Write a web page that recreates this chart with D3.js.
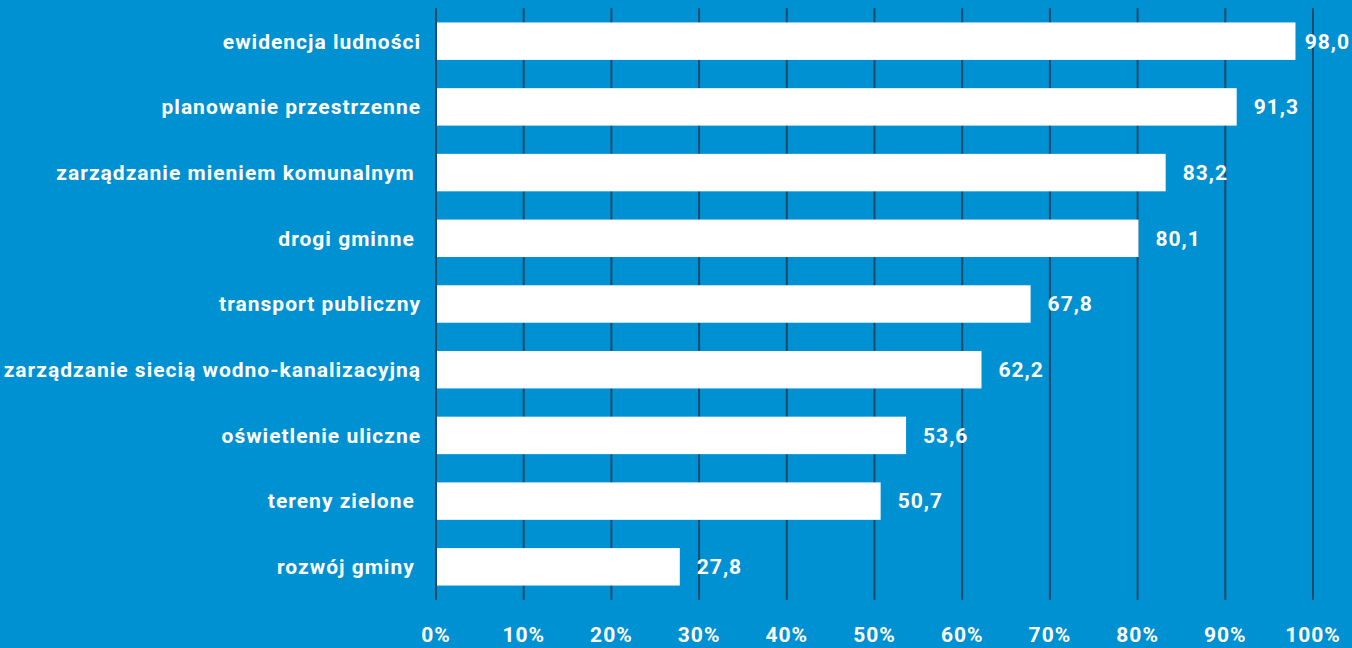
<!DOCTYPE html>
<html>
<head>
<meta charset="utf-8">
<script src="https://cdn.jsdelivr.net/npm/d3@7"></script>
<style>
  html, body { margin: 0; padding: 0; background: #0091d3; }
  svg text { font-family: Roboto, "Noto Sans", sans-serif; font-weight: bold; fill: #ffffff; white-space: pre; letter-spacing: 1px; }
</style>
</head>
<body>
<div id="chart"></div>
<script>
// data
let categories = [
    "ewidencja ludności",
    "planowanie przestrzenne",
    "zarządzanie mieniem komunalnym ",
    "drogi gminne ",
    "transport publiczny",
    "zarządzanie siecią wodno-kanalizacyjną",
    "oświetlenie uliczne",
    "tereny zielone ",
    "rozwój gminy "
];
let values = [98.0, 91.3, 83.2, 80.1, 67.8, 62.2, 53.6, 50.7, 27.8];
let ticks = [0, 10, 20, 30, 40, 50, 60, 70, 80, 90, 100];

let width = 1352, height = 648;

let svg = d3.select("#chart").append("svg")
    .attr("width", width)
    .attr("height", height);

svg.append("rect")
    .attr("width", width)
    .attr("height", height)
    .attr("fill", "#0091d3");

let xScale = d3.scaleLinear()
    .domain([0, 100])
    .range([436, 1313]);

let yScale = d3.scaleBand()
    .domain(categories)
    .range([8, 600])
    .paddingInner(0.43)
    .paddingOuter(0.22);

// vertical gridlines
svg.append("g")
    .selectAll("line")
    .data(ticks)
    .enter().append("line")
    .attr("x1", d => xScale(d))
    .attr("x2", d => xScale(d))
    .attr("y1", 8)
    .attr("y2", 600)
    .attr("stroke", "#1c4a6b")
    .attr("stroke-width", 2);

// bars
svg.append("g")
    .selectAll("rect")
    .data(values)
    .enter().append("rect")
    .attr("x", xScale(0) + 1)
    .attr("y", (d, i) => yScale(categories[i]))
    .attr("width", d => xScale(d) - xScale(0) - 1)
    .attr("height", yScale.bandwidth())
    .attr("fill", "#ffffff");

// category labels
svg.append("g")
    .selectAll("text")
    .data(categories)
    .enter().append("text")
    .attr("x", 421)
    .attr("y", d => yScale(d) + yScale.bandwidth() / 2)
    .attr("dy", "0.35em")
    .attr("text-anchor", "end")
    .attr("font-size", 21)
    .text(d => d);

// value labels (pulled back in when they would run off the right edge)
svg.append("g")
    .selectAll("text")
    .data(values)
    .enter().append("text")
    .attr("y", (d, i) => yScale(categories[i]) + yScale.bandwidth() / 2)
    .attr("dy", "0.35em")
    .attr("font-size", 21)
    .text(d => d.toFixed(1).replace(".", ","))
    .attr("x", function(d) {
        let w = this.getComputedTextLength();
        return Math.min(xScale(d) + 17, width - w - 2);
    });

// x axis tick labels
svg.append("g")
    .selectAll("text")
    .data(ticks)
    .enter().append("text")
    .attr("x", d => xScale(d))
    .attr("y", 642)
    .attr("text-anchor", "middle")
    .attr("font-size", 21)
    .text(d => d + "%");
</script>
</body>
</html>
